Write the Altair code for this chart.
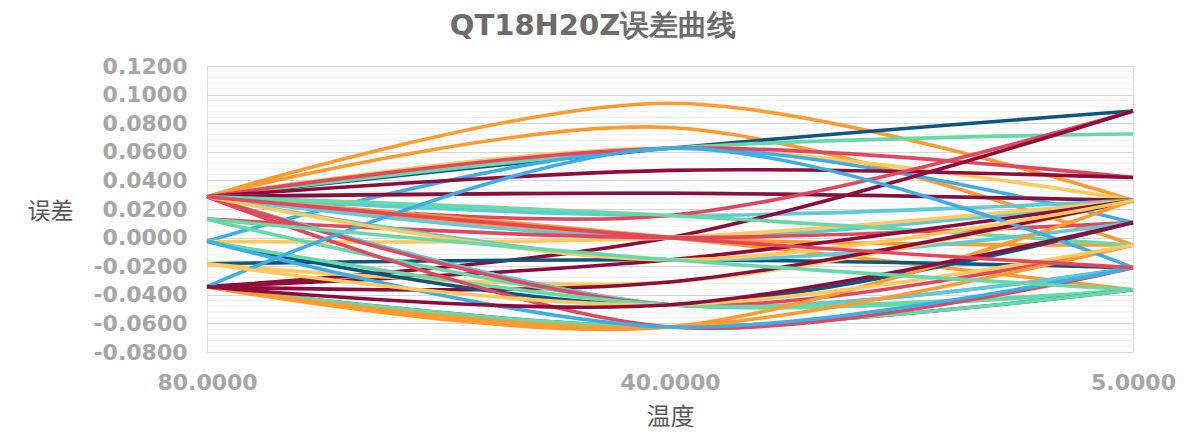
import altair as alt
import pandas as pd

temps = ["80.0000", "40.0000", "5.0000"]

# error values of each curve at 80, 40 and 5 degrees
at_80 = [0.0286, 0.0286, 0.0286, 0.0286, 0.0286, -0.0025, 0.0286, 0.0286, 0.0286, 0.0286,
         0.0286, 0.0286, -0.0343, 0.0286, 0.0286, 0.0286, -0.0025, 0.0286, 0.0129, -0.0183,
         0.0286, -0.0343, -0.0183, -0.0343, -0.0025, 0.0129, 0.0286, 0.0286, 0.0286, -0.0025,
         -0.0343, -0.0343, -0.0343, 0.0286, -0.0343, -0.0343, -0.0025, 0.0286, -0.0183, -0.0343,
         0.0129, 0.0286]
at_40 = [0.0940, 0.0770, 0.0625, 0.0625, 0.0625, 0.0625, 0.0625, 0.0470, 0.0310, 0.0310,
         0.0155, 0.0155, 0.0000, 0.0000, 0.0000, 0.0000, 0.0000, 0.0155, 0.0000, -0.0155,
         -0.0155, -0.0155, -0.0310, -0.0310, -0.0470, -0.0470, -0.0470, -0.0470, -0.0470, -0.0470,
         -0.0625, -0.0625, -0.0625, -0.0625, -0.0625, 0.0625, -0.0625, -0.0155, -0.0470, -0.0470,
         -0.0155, 0.0000]
at_5 = [0.0260, -0.0052, 0.0885, 0.0725, 0.0260, 0.0105, 0.0420, 0.0420, 0.0260, 0.0260,
        0.0260, 0.0885, 0.0885, -0.0052, -0.0365, 0.0260, 0.0260, -0.0052, 0.0105, -0.0210,
        0.0105, 0.0260, 0.0260, 0.0260, 0.0105, -0.0365, -0.0210, -0.0210, -0.0052, -0.0365,
        0.0260, -0.0365, -0.0365, -0.0210, -0.0052, -0.0210, -0.0210, 0.0260, -0.0052, 0.0105,
        -0.0365, -0.0210]
palette = {
    "orange": "#FF9A2E", "yellow": "#FFC95E", "navy": "#0E5580", "maroon": "#8E0C3C",
    "red": "#E3475E", "teal": "#5DCAD5", "sky": "#3BAEE5", "green": "#66D9A8",
}
line_colors = ["orange", "orange", "navy", "green", "yellow", "sky", "red", "maroon", "teal", "maroon",
               "teal", "red", "maroon", "orange", "orange", "teal", "yellow", "green", "red", "navy",
               "teal", "maroon", "yellow", "maroon", "navy", "green", "sky", "teal", "red", "green",
               "orange", "navy", "green", "red", "orange", "sky", "sky", "yellow", "yellow", "maroon",
               "green", "red"]

y_major = [-0.08, -0.06, -0.04, -0.02, 0.0, 0.02, 0.04, 0.06, 0.08, 0.10, 0.12]
y_minor = [round(-0.08 + 0.004 * k, 3) for k in range(51) if k % 5 != 0]

series = [f"S{i + 1:02d}" for i in range(len(at_80))]
rows = []
for i, s in enumerate(series):
    for j, (t, v) in enumerate(zip(temps, (at_80[i], at_40[i], at_5[i]))):
        rows.append({"series": s, "temp": t, "err": v, "idx": j})
df = pd.DataFrame(rows)
grid_df = pd.DataFrame({"err": y_minor})

y_scale = alt.Scale(domain=[-0.08, 0.12], nice=False, zero=False)
y_axis = alt.Axis(
    title="误差", values=y_major, grid=True, gridColor="#D6D6D6", gridWidth=1.2,
    ticks=False, domain=False, labelPadding=20,
    labelExpr="replace(format(datum.value, '.4f'), '\u2212', '-')",
    labelFont="DejaVu Sans", labelFontSize=22, labelFontWeight="bold", labelColor="#A6A6A6",
    titleFont="Noto Sans CJK SC", titleFontSize=23, titleFontWeight="normal",
    titleColor="#595959", titleAngle=0, titleX=-157, titleY=145,
    titleAlign="center", titleBaseline="middle",
)

minor = alt.Chart(grid_df).mark_rule(color="#EEEEEE", strokeWidth=1).encode(
    y=alt.Y("err:Q", scale=y_scale, axis=y_axis)
)

lines = alt.Chart(df).mark_line(interpolate="cardinal", strokeWidth=3.6).encode(
    x=alt.X(
        "temp:N",
        sort=temps,
        scale=alt.Scale(domain=temps, padding=0),
        axis=alt.Axis(
            title="温度", labelAngle=0, grid=False, ticks=False, domain=False,
            labelPadding=20, labelFont="DejaVu Sans", labelFontSize=22, labelFontWeight="bold",
            labelColor="#A6A6A6",
            titleFont="Noto Sans CJK SC", titleFontSize=24, titleFontWeight="normal",
            titleColor="#595959", titleX=463, titleY=65, titleBaseline="middle",
        ),
    ),
    y=alt.Y("err:Q", scale=y_scale, axis=y_axis),
    color=alt.Color("series:N", scale=alt.Scale(domain=series, range=[palette[c] for c in line_colors]), legend=None),
    order=alt.Order("idx:Q"),
)

chart = alt.layer(minor, lines).properties(
    width=926,
    height=286,
    autosize=alt.AutoSizeParams(type="none"),
    padding={"left": 199, "top": 58, "right": 48, "bottom": 80},
    title=alt.TitleParams(
        "QT18H20Z误差曲线", font="DejaVu Sans", fontSize=29, fontWeight="bold", color="#6B6B6B",
        anchor="middle", frame="group", dx=-77, offset=14,
    ),
).configure_view(stroke=None).configure(background="white")

chart.save("out.html", embed_options={"renderer": "svg", "actions": False})
